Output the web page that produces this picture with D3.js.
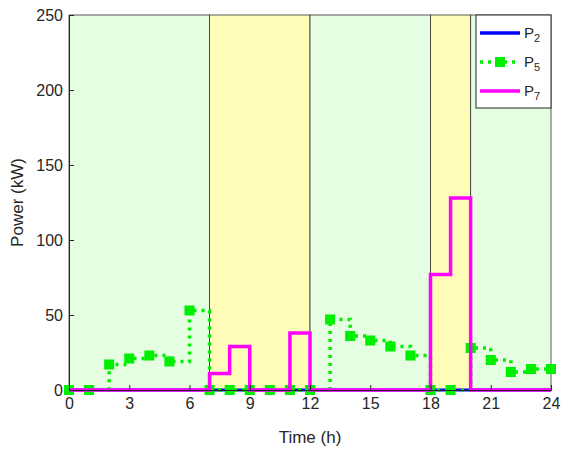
<!DOCTYPE html><html><head><script src="https://cdn.jsdelivr.net/npm/d3@7"></script>
<style>body{margin:0;background:#fff}text{font-family:"Liberation Sans",Arial,sans-serif}</style></head><body><svg id="c" width="568" height="455"></svg><script>
const hours=d3.range(25);
const p2=hours.map(()=>0);
const p5=[0,0,17,21,23,19,53,0,0,0,0,0,0,47,36,33,29,23,0,0,28,20,12,14,14];
const p7=[0,0,0,0,0,0,0,11,29,0,0,38,0,0,0,0,0,0,77,128,0,0,0,0,0];
const regions=[[0,7,"#e5fde0"],[7,12,"#fffcb8"],[12,18,"#e5fde0"],[18,20,"#fffcb8"],[20,24,"#e5fde0"]];
const xTicks=[0,3,6,9,12,15,18,21,24], yTicks=[0,50,100,150,200,250];
const svg=d3.select("#c");
const L=69,R=551,T=15,B=390;
const x=d3.scaleLinear().domain([0,24]).range([L,R]);
const y=d3.scaleLinear().domain([0,250]).range([B,T]);
svg.selectAll(".rg").data(regions).enter().append("rect").attr("x",d=>x(d[0])).attr("y",T).attr("width",d=>x(d[1])-x(d[0])).attr("height",B-T).attr("fill",d=>d[2]).attr("stroke","#333").attr("stroke-width",0.8);
const line=d3.line().x((d,i)=>x(i)).y(d=>y(d)).curve(d3.curveStepAfter);
svg.append("path").attr("d",line(p2)).attr("fill","none").attr("stroke","#0000ff").attr("stroke-width",3);
svg.append("path").attr("d",line(p5)).attr("fill","none").attr("stroke","#00ee00").attr("stroke-width",3.5).attr("stroke-dasharray","3,5");
svg.selectAll(".m").data(p5).enter().append("rect").attr("x",(d,i)=>x(i)-5).attr("y",d=>y(d)-5).attr("width",10).attr("height",10).attr("fill","#00ee00");
svg.append("path").attr("d",line(p7)).attr("fill","none").attr("stroke","#ff00ff").attr("stroke-width",3.5);
const xa=svg.append("g").attr("transform",`translate(0,${B})`).call(d3.axisBottom(x).tickValues(xTicks).tickSize(-5).tickPadding(8));
const ya=svg.append("g").attr("transform",`translate(${L},0)`).call(d3.axisLeft(y).tickValues(yTicks).tickSize(-5).tickPadding(6));
[xa,ya].forEach(a=>{a.selectAll("text").attr("font-size",16).attr("fill","#262626");a.selectAll("line,path").attr("stroke","#262626");});
svg.append("text").attr("x",(L+R)/2).attr("y",443).attr("text-anchor","middle").attr("font-size",17).attr("fill","#262626").text("Time (h)");
svg.append("text").attr("transform",`translate(23,${(T+B)/2}) rotate(-90)`).attr("text-anchor","middle").attr("font-size",17).attr("fill","#262626").text("Power (kW)");
const lg=svg.append("g");
lg.append("rect").attr("x",476).attr("y",15).attr("width",75).attr("height",93).attr("fill","#fff").attr("stroke","#262626");
const items=[["P","2","#0000ff",false,false],["P","5","#00ee00",true,true],["P","7","#ff00ff",false,false]];
items.forEach((it,i)=>{const yy=33+i*29;
 const l=lg.append("line").attr("x1",480).attr("x2",520).attr("y1",yy).attr("y2",yy).attr("stroke",it[2]).attr("stroke-width",3.5);
 if(it[3])l.attr("stroke-dasharray","3,5");
 if(it[4])lg.append("rect").attr("x",495).attr("y",yy-5).attr("width",10).attr("height",10).attr("fill",it[2]);
 const t=lg.append("text").attr("x",524).attr("y",yy+5).attr("font-size",15).attr("fill","#262626").text(it[0]);
 t.append("tspan").attr("dy",4).attr("font-size",11).text(it[1]);});
</script></body></html>
